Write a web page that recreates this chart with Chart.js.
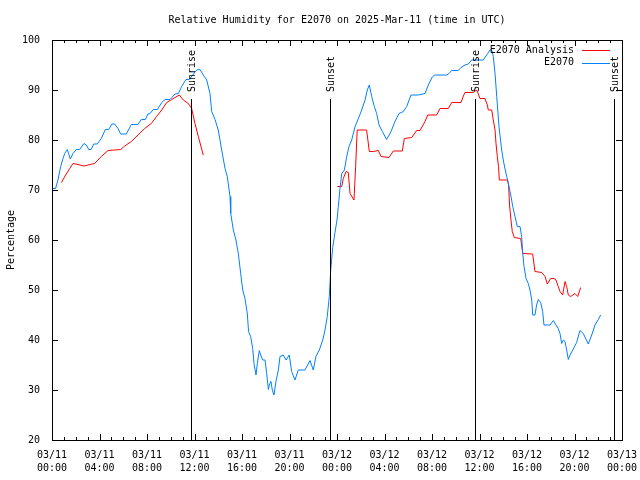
<!DOCTYPE html>
<html>
<head>
<meta charset="utf-8">
<script src="https://cdn.jsdelivr.net/npm/chart.js@4.4.1/dist/chart.umd.min.js"></script>
<style>
  html, body { margin: 0; padding: 0; background: #fff; }
</style>
</head>
<body>
<canvas id="chart" width="640" height="480"></canvas>
<script>
// hours since 03/11 00:00 UTC
const stationHours = [
  0.05, 0.3, 0.5, 0.73, 0.93, 1.07, 1.29, 1.54, 1.77, 2.05, 2.33, 2.69, 2.9, 3.09, 3.3, 3.51, 3.81,
  4.15, 4.49, 4.77, 5.05, 5.28, 5.56, 5.78, 6.26, 6.68, 7.24, 7.52, 7.86, 8.08, 8.25, 8.53, 8.87,
  9.24, 9.52, 9.94, 10.36, 10.64, 10.92, 11.28, 11.56, 11.85, 12.18, 12.46, 12.74, 13.03, 13.3,
  13.45, 13.73, 14.0, 14.29, 14.57, 14.76, 14.99, 15.05, 15.27, 15.49, 15.69, 15.89, 16.06, 16.25,
  16.45, 16.55, 16.73, 16.9, 17.01, 17.18, 17.29, 17.46, 17.57, 17.74, 17.94, 18.08, 18.22, 18.3,
  18.44, 18.55, 18.69, 18.86, 19.06, 19.2, 19.48, 19.71, 19.98, 20.18, 20.46, 20.74, 21.3, 21.73,
  22.0, 22.23, 22.51, 22.8, 22.99, 23.18, 23.35, 23.47, 23.64, 23.83, 24.0, 24.11, 24.25, 24.4,
  24.62, 24.82, 25.01, 25.24, 25.52, 25.8, 26.08, 26.36, 26.55, 26.72, 26.92, 27.14, 27.34, 27.54,
  27.82, 28.18, 28.55, 28.88, 29.22, 29.59, 29.87, 30.23, 30.85, 31.41, 31.69, 32.0, 32.2, 32.67,
  33.24, 33.43, 33.66, 34.21, 34.44, 34.78, 35.06, 35.34, 36.32, 36.69, 36.88, 37.03, 37.16, 37.31,
  37.45, 37.64, 37.87, 38.0, 38.15, 38.29, 38.43, 38.63, 38.8, 38.99, 39.18, 39.41, 39.55, 39.64,
  39.75, 39.92, 40.11, 40.25, 40.4, 40.48, 40.67, 40.81, 40.95, 41.15, 41.32, 41.43, 41.94, 42.22,
  42.44, 42.63, 42.78, 42.92, 43.06, 43.2, 43.34, 43.48, 43.62, 43.85, 44.18, 44.46, 44.74, 45.16,
  45.45, 45.73, 46.0, 46.2
];
const stationValues = [
  70.3, 70.3, 72, 74.7, 76.3, 77.3, 78.1, 76.2, 77.3, 78.1, 78.1, 79.3, 79, 78.1, 78.1, 79.2, 79.2,
  80.3, 82.1, 82.1, 83.2, 83.2, 82.3, 81.2, 81.2, 83.1, 83.1, 84.1, 84.1, 85.2, 85.3, 86.1, 86.1,
  87.5, 88.1, 88.1, 89.2, 89.3, 90.7, 92.1, 92.1, 93, 94, 94.1, 93, 92, 89.3,
  85.7, 84.1, 82, 78, 74.3, 72.7, 68.7, 65.3, 62, 60, 57.3, 53.3, 50, 48.3,
  45.2, 41.7, 40.7, 38.3, 35.3, 33, 35.3, 37.9, 37, 36, 36, 33.3, 30.1, 31,
  31.7, 30, 29, 31.7, 34, 36.7, 37, 36, 37, 33.7, 32, 34, 34, 35.9,
  34, 36.7, 38, 40, 42, 44.7, 48.7, 54, 58.5, 61.5, 64, 66.7, 70.3, 73.3,
  74, 76.7, 78.7, 80, 82.7, 84.3, 86, 88, 90, 91, 88.7, 86.7, 85.3, 83,
  81.7, 80.1, 81.7, 83.7, 85.3, 85.7, 86.7, 89, 89, 89.3, 91, 92.5, 93, 93,
  93, 93.3, 93.9, 93.9, 94.5, 95, 95.2, 96, 96, 97.3, 98, 98, 96.7, 93.3,
  88.7, 82.7, 78, 76, 74.2, 72.7, 71.3, 69, 66.7, 64.7, 62.7, 62.7, 60.7, 57.3,
  54.7, 52.3, 51.3, 50, 48, 45, 45, 47, 48.1, 47.5, 45.7, 43, 43, 43.9,
  43, 42.3, 41.3, 39.3, 40, 39.7, 38, 36.1, 37, 38, 39.5, 41.9, 41.3, 39.2,
  41, 43, 44.1, 45
];

const analysisHours = [
  0.79, 1.2, 1.49, 1.77, 2.19, 2.69, 3.03, 3.59, 4.15, 4.72, 5.28, 5.78, 6.12, 6.68, 7.24, 7.8,
  8.36, 8.81, 9.24, 9.66, 10.08, 10.72, 11.06, 11.48, 11.76, 12.04, 12.32, 12.74,
  18,
  24.03, 24.4, 24.53, 24.76, 24.95, 25.1, 25.43, 25.57, 25.7, 26.49, 26.6, 26.72, 27.06, 27.48,
  27.71, 28.38, 28.74, 29.5, 29.67, 30.29, 30.71, 30.99, 31.41, 31.64, 32.39, 32.67, 33.37, 33.66,
  34.44, 34.64, 34.78, 35.48, 35.76, 35.9, 36.04, 36.46, 36.66, 36.74, 37.03, 37.16, 37.31, 37.39,
  37.5, 37.6, 37.67, 38.36, 38.45, 38.53, 38.65, 38.76, 38.93, 39.47, 39.64, 40.48, 40.67, 41.24,
  41.52, 41.71, 42.0, 42.27, 42.44, 42.63, 42.78, 43.0, 43.2, 43.34, 43.48, 43.68, 44.04, 44.27,
  44.52
];
const analysisValues = [
  71.5, 73.2, 74.3, 75.3, 75.1, 74.8, 75, 75.3, 76.7, 77.9, 78, 78.1, 78.8, 79.7, 81, 82.3,
  83.3, 84.7, 86, 87.5, 88.1, 89, 88, 87.3, 86.3, 83.3, 80.7, 77,
  null,
  70.7, 70.7, 72.3, 73.7, 73.5, 69.3, 68, 74.7, 82, 82, 80, 77.7, 77.7, 77.9,
  76.7, 76.5, 77.8, 77.8, 80.3, 80.5, 81.9, 81.9, 83.7, 85, 85, 86.3, 86.3, 87.5,
  87.5, 88.8, 89.5, 89.5, 90, 89.2, 88.3, 88.3, 87, 86, 86, 84, 82, 79.3,
  76.7, 74.7, 72, 72, 71, 67, 64, 61.7, 60.5, 60.3, 57.3, 57.2, 53.7, 53.5,
  52.7, 51.2, 52.3, 52.3, 52, 50.7, 49.7, 49, 51.7, 50.7, 49, 48.7, 49.3, 48.7,
  50.5
];

const sunHours = [11.73, 23.44, 35.65, 47.33];
const sunLabels = ['Sunrise', 'Sunset', 'Sunrise', 'Sunset'];

const tickHours = [0, 4, 8, 12, 16, 20, 24, 28, 32, 36, 40, 44, 48];
const tickDates = ['03/11', '03/11', '03/11', '03/11', '03/11', '03/11', '03/12', '03/12', '03/12', '03/12', '03/12', '03/12', '03/13'];
const tickTimes = ['00:00', '04:00', '08:00', '12:00', '16:00', '20:00', '00:00', '04:00', '08:00', '12:00', '16:00', '20:00', '00:00'];

const FONT = "'DejaVu Sans Mono', 'Liberation Mono', monospace";
Chart.defaults.font.family = FONT;
Chart.defaults.font.size = 10;
Chart.defaults.color = '#000';

const toPoints = (xs, ys) => xs.map((h, i) => ({ x: h, y: ys[i] }));

// gnuplot style box, inward ticks, sunrise/sunset markers and key
const gnuplotFrame = {
  id: 'gnuplotFrame',
  afterDatasetsDraw(chart) {
    const { ctx, chartArea: a, scales: { x, y } } = chart;
    ctx.save();
    ctx.strokeStyle = '#000';
    ctx.lineWidth = 1;

    // sun lines
    ctx.font = '10px ' + FONT;
    ctx.fillStyle = '#000';
    sunHours.forEach((h, i) => {
      const px = Math.round(x.getPixelForValue(h)) + 0.5;
      ctx.beginPath();
      ctx.moveTo(px, y.getPixelForValue(20));
      ctx.lineTo(px, y.getPixelForValue(88.2));
      ctx.stroke();
      ctx.save();
      ctx.translate(px + 1, y.getPixelForValue(89.6));
      ctx.rotate(-Math.PI / 2);
      ctx.textAlign = 'left';
      ctx.textBaseline = 'middle';
      ctx.fillText(sunLabels[i], 0, 0);
      ctx.restore();
    });

    // box
    ctx.strokeRect(a.left + 0.5, a.top + 0.5, a.right - a.left, a.bottom - a.top);

    // x ticks, hourly, longer every 4 h, mirrored on top
    ctx.beginPath();
    for (let h = 0; h <= 48; h++) {
      const px = Math.round(x.getPixelForValue(h)) + 0.5;
      const len = h % 4 === 0 ? 6 : 3;
      ctx.moveTo(px, a.bottom);
      ctx.lineTo(px, a.bottom - len);
      ctx.moveTo(px, a.top);
      ctx.lineTo(px, a.top + len);
    }
    // y ticks, mirrored on right
    for (let v = 20; v <= 100; v += 10) {
      const py = Math.round(y.getPixelForValue(v)) + 0.5;
      ctx.moveTo(a.left, py);
      ctx.lineTo(a.left + 6, py);
      ctx.moveTo(a.right, py);
      ctx.lineTo(a.right - 6, py);
    }
    ctx.stroke();

    // key, top right inside the plot
    chart.data.datasets.forEach((ds, i) => {
      const ty = a.top + 10 + i * 12.5;
      ctx.textAlign = 'right';
      ctx.textBaseline = 'middle';
      ctx.fillStyle = '#000';
      ctx.fillText(ds.label, a.right - 48, ty);
      ctx.strokeStyle = ds.borderColor;
      ctx.beginPath();
      ctx.moveTo(a.right - 40, Math.round(ty) + 0.5);
      ctx.lineTo(a.right - 12, Math.round(ty) + 0.5);
      ctx.stroke();
    });
    ctx.restore();
  }
};

new Chart(document.getElementById('chart'), {
  type: 'line',
  data: {
    datasets: [
      {
        label: 'E2070 Analysis',
        data: toPoints(analysisHours, analysisValues),
        borderColor: '#ff0000',
        borderWidth: 1,
        pointRadius: 0,
        tension: 0,
        spanGaps: false,
        order: 2
      },
      {
        label: 'E2070',
        data: toPoints(stationHours, stationValues),
        borderColor: '#0080ff',
        borderWidth: 1,
        pointRadius: 0,
        tension: 0,
        order: 1
      }
    ]
  },
  options: {
    responsive: false,
    animation: false,
    devicePixelRatio: 1,
    layout: { padding: { left: 0, right: 18, top: 0, bottom: 0 } },
    plugins: {
      legend: { display: false },
      tooltip: { enabled: false },
      title: {
        display: true,
        fullSize: false,
        text: 'Relative Humidity for E2070 on 2025-Mar-11 (time in UTC)',
        color: '#000',
        font: { size: 10, weight: 'normal' },
        padding: { top: 14, bottom: 14 }
      }
    },
    scales: {
      x: {
        type: 'linear',
        min: 0,
        max: 48,
        afterBuildTicks: (s) => { s.ticks = tickHours.map(v => ({ value: v })); },
        afterFit: (s) => { s.height = 40; s.paddingLeft = 0; s.paddingRight = 0; },
        ticks: {
          autoSkip: false,
          maxRotation: 0,
          padding: 9,
          font: { size: 10, lineHeight: 1.3 },
          callback: (v, i) => [tickDates[i], tickTimes[i]]
        },
        grid: { display: false, drawTicks: false },
        border: { display: false }
      },
      y: {
        min: 20,
        max: 100,
        afterFit: (s) => { s.width = 52; s.paddingTop = 0; s.paddingBottom = 0; },
        ticks: { stepSize: 10, padding: 12 },
        grid: { display: false, drawTicks: false },
        border: { display: false },
        title: {
          display: true,
          text: 'Percentage',
          font: { size: 10 },
          padding: { top: 5, bottom: 0 }
        }
      }
    }
  },
  plugins: [gnuplotFrame]
});
</script>
</body>
</html>
